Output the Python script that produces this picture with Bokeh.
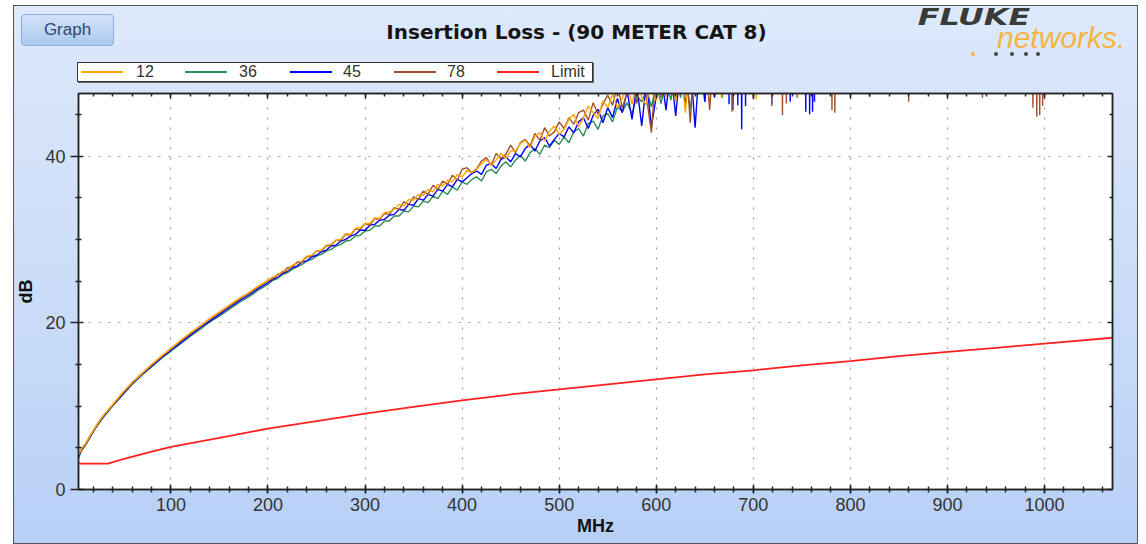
from bokeh.plotting import figure
from bokeh.layouts import column
from bokeh.models import Range1d, FixedTicker, LinearAxis, Div
from bokeh.embed import file_html
from bokeh.resources import INLINE

# ---------------- data ----------------
freq_low = [5, 8, 12, 16, 20, 25, 30, 40, 50, 60, 70, 80, 90, 100, 110, 120, 130, 140,
            150, 160, 170, 180, 190, 200]
low_12 = [4.2, 4.9, 5.5, 6.3, 7.1, 8.0, 8.8, 10.2, 11.6, 12.8, 13.9, 15.0, 16.0, 16.9,
          17.9, 18.8, 19.6, 20.5, 21.3, 22.1, 22.9, 23.6, 24.4, 25.1]
low_36 = [3.8, 4.7, 5.3, 6.1, 6.9, 7.8, 8.6, 10.0, 11.3, 12.6, 13.7, 14.7, 15.7, 16.6,
          17.5, 18.4, 19.2, 20.1, 20.8, 21.6, 22.4, 23.1, 23.9, 24.6]
low_45 = [4.0, 4.8, 5.4, 6.2, 7.0, 7.9, 8.7, 10.1, 11.4, 12.7, 13.8, 14.8, 15.8, 16.7,
          17.6, 18.5, 19.4, 20.2, 21.0, 21.8, 22.6, 23.3, 24.1, 24.8]
low_78 = [4.1, 4.9, 5.4, 6.3, 7.0, 8.0, 8.8, 10.1, 11.5, 12.8, 13.9, 14.9, 15.9, 16.9,
          17.8, 18.7, 19.6, 20.4, 21.2, 22.0, 22.8, 23.5, 24.3, 25.0]

freq_main = list(range(205, 661, 5))
main_12 = [25.5, 25.6, 26.2, 26.3, 26.9, 27.1, 27.4, 28.0, 28.1, 28.6,
           28.7, 29.3, 29.4, 29.9, 30.0, 30.7, 30.6, 31.3, 31.4, 31.9,
           31.9, 32.6, 32.5, 33.2, 33.3, 33.6, 34.2, 34.0, 34.8, 34.7,
           35.4, 35.3, 36.0, 35.7, 36.6, 36.4, 37.1, 36.9, 37.8, 37.5,
           38.3, 38.0, 38.4, 39.1, 39.6, 38.9, 39.5, 40.3, 39.7, 40.6,
           40.6, 41.5, 41.9, 41.0, 42.4, 42.8, 41.8, 43.0, 43.6, 42.6,
           43.2, 44.4, 45.0, 43.5, 44.6, 46.0, 45.2, 44.5, 46.6, 45.8,
           47.4, 45.8, 46.9, 48.6, 46.2, 49.3, 47.0, 46.1, 50.0, 46.6,
           50.6, 47.1, 51.0, 46.5, 51.4, 45.2, 52.0, 47.6, 52.5, 49.0,
           53.0, 52.0]
main_36 = [25.1, 25.3, 25.8, 26.0, 26.4, 26.7, 27.0, 27.4, 27.6, 28.0,
           28.2, 28.6, 28.8, 29.2, 29.4, 29.8, 29.9, 30.4, 30.5, 31.0,
           31.1, 31.6, 31.6, 32.2, 32.2, 32.8, 32.8, 33.4, 33.3, 34.0,
           33.9, 34.6, 34.4, 35.2, 34.9, 35.8, 35.4, 36.3, 35.9, 36.9,
           36.6, 37.2, 37.5, 37.0, 38.1, 38.4, 37.9, 38.8, 39.3, 38.7,
           39.5, 40.1, 39.4, 40.4, 40.9, 40.2, 41.3, 41.0, 41.9, 41.4,
           42.3, 41.6, 42.9, 43.3, 42.4, 43.9, 44.2, 43.2, 44.8, 45.1,
           44.1, 45.9, 45.3, 46.4, 45.0, 47.3, 46.5, 47.9, 45.9, 48.6,
           46.3, 49.2, 46.7, 49.8, 47.0, 50.3, 45.5, 50.8, 48.0, 51.5,
           49.0, 52.0]
main_45 = [25.2, 25.5, 25.9, 26.2, 26.6, 26.8, 27.3, 27.4, 27.9, 28.1,
           28.5, 28.7, 29.2, 29.3, 29.8, 30.0, 30.4, 30.6, 31.1, 31.1,
           31.7, 31.8, 32.3, 32.4, 32.9, 33.0, 33.6, 33.5, 34.2, 34.1,
           34.9, 34.7, 35.4, 35.2, 36.0, 35.8, 36.6, 36.3, 37.2, 36.9,
           37.4, 37.9, 38.2, 37.8, 38.9, 39.1, 38.5, 39.6, 39.9, 39.3,
           40.3, 39.9, 40.9, 41.4, 40.6, 41.8, 42.2, 41.2, 42.0, 42.7,
           42.3, 43.5, 42.8, 44.1, 44.6, 43.3, 44.9, 45.6, 44.0, 45.8,
           44.6, 46.9, 45.2, 47.8, 44.4, 48.5, 43.6, 49.0, 43.5, 47.2,
           50.0, 45.5, 50.5, 44.8, 51.0, 46.0, 51.5, 43.4, 52.0, 46.5,
           52.5, 47.0]
main_78 = [25.3, 25.8, 26.0, 26.6, 26.7, 27.3, 27.3, 27.9, 28.0, 28.6,
           28.6, 29.2, 29.3, 29.9, 29.9, 30.6, 30.5, 31.2, 31.2, 31.9,
           31.7, 32.5, 32.4, 33.1, 33.0, 33.8, 33.6, 34.5, 34.2, 35.1,
           34.8, 35.8, 35.4, 36.5, 36.0, 37.0, 36.6, 37.7, 37.1, 38.4,
           38.6, 38.0, 38.5, 39.4, 39.8, 38.9, 40.3, 39.7, 40.2, 41.3,
           40.4, 41.6, 42.0, 41.2, 42.7, 41.9, 43.4, 42.4, 42.9, 44.1,
           43.3, 44.6, 43.8, 45.2, 45.5, 44.3, 46.4, 45.0, 46.2, 47.3,
           46.1, 48.5, 45.8, 47.6, 49.2, 46.3, 49.8, 47.0, 42.8, 51.0,
           47.0, 51.5, 48.0, 52.0, 48.5, 52.5, 44.0, 53.0, 50.0, 53.5,
           45.5, 54.0]

# dips seen above 660 MHz (readings are off-scale elsewhere)
OFF_SCALE = 60.0
spike_f_12 = [667, 703]
spike_db_12 = [47.0, 46.8]
spike_f_36 = [668]
spike_db_36 = [47.0]
spike_f_45 = [675, 679, 684, 688, 692, 719, 738, 754, 758, 761, 763]
spike_db_45 = [46.2, 45.5, 46.1, 43.2, 46.0, 46.2, 46.5, 45.3, 45.0, 45.3, 46.5]
spike_f_78 = [678, 700, 719, 730, 734, 745, 781, 784, 820, 860, 936, 988, 992, 995, 998]
spike_db_78 = [45.3, 46.8, 46.0, 44.9, 46.3, 47.0, 45.5, 45.2, 47.1, 46.5, 47.0, 45.8,
               44.7, 44.9, 46.0]

freq_limit = [5, 35, 50, 75, 100, 150, 200, 250, 300, 350, 400, 450, 500, 550, 600, 650,
              700, 750, 800, 850, 900, 950, 1000, 1070]
limit_db = [3.1, 3.1, 3.6, 4.4, 5.1, 6.2, 7.3, 8.2, 9.1, 9.9, 10.7, 11.4, 12.0, 12.6, 13.2,
            13.8, 14.3, 14.9, 15.4, 16.0, 16.5, 17.0, 17.5, 18.2]

series_labels = ["12", "36", "45", "78", "Limit"]
series_colors = ["#ffa500", "#2e8b57", "#0000ff", "#a0522d", "#ff2020"]

x_major = [100, 200, 300, 400, 500, 600, 700, 800, 900, 1000]
x_minor = list(range(20, 1061, 20))
y_major = [0, 20, 40]
y_minor = [5, 10, 15, 25, 30, 35, 45]


def build(lo, main, sf, sd):
    xs = list(freq_low) + list(freq_main)
    ys = list(lo) + list(main)
    for f, d in zip(sf, sd):
        xs += [f - 0.8, f, f + 0.8]
        ys += [OFF_SCALE, d, OFF_SCALE]
    xs.append(1070)
    ys.append(OFF_SCALE)
    return xs, ys


FONT = "Liberation Sans"
W = 1125
PX0, PY0 = 13, 5          # page position of the panel
TOTAL_H = 539
HDR_H = 84                # header strip height

# ---------------- header strip: button, title, logo, legend (HTML) ----------------
ABS = "position:absolute;white-space:nowrap;margin:0;padding:0;"
parts = []
parts.append(
    f'<div style="{ABS}left:8px;top:9px;width:93px;height:32px;box-sizing:border-box;'
    'border:1px solid #8eaedb;border-radius:4px;'
    'background:linear-gradient(#d3e3fa,#abc8f0);text-align:center;'
    f'font-family:\'{FONT}\';font-size:17px;line-height:30px;color:#34466a;">Graph</div>')
parts.append(
    f'<div style="{ABS}left:0px;top:17px;width:1127px;text-align:center;'
    'font-family:\'DejaVu Sans\';font-weight:bold;font-size:20px;line-height:20px;'
    'color:#151515;">Insertion Loss - (90 METER CAT 8)</div>')
parts.append(
    f'<div style="{ABS}left:861px;top:4px;width:200px;text-align:center;'
    'transform:scaleX(1.38);transform-origin:50% 50%;'
    'font-family:\'DejaVu Sans\';font-weight:bold;font-style:italic;font-size:23px;'
    'line-height:17px;color:#3a3a3a;">FLUKE</div>')
parts.append(
    f'<div style="{ABS}left:984px;top:22px;font-family:\'{FONT}\';font-style:italic;'
    'font-size:30px;line-height:22px;color:#f6b444;">networks.</div>')
for X, col in ((973, "#f6b444"), (996, "#444"), (1012, "#444"), (1026, "#444"), (1038, "#444")):
    parts.append(f'<div style="{ABS}left:{X - PX0 - 2}px;top:47px;width:4px;height:4px;'
                 f'border-radius:50%;background:{col};"></div>')

# legend box
LEG_L, LEG_T, LEG_W, LEG_H = 64, 57, 516, 20
leg = [f'<div style="{ABS}left:{LEG_L}px;top:{LEG_T}px;width:{LEG_W}px;height:{LEG_H}px;'
       'box-sizing:border-box;background:#fff;border:1px solid #333;'
       'box-shadow:1px 1px 0 #666;">']
sample_x = [3, 107, 212, 316, 419]
label_x = [58, 161, 265, 369, 473]
for lab, colr, sx, lx in zip(series_labels, series_colors, sample_x, label_x):
    leg.append(f'<div style="{ABS}left:{sx}px;top:8px;width:42px;height:0px;'
               f'border-top:2px solid {colr};"></div>')
    leg.append(f'<div style="{ABS}left:{lx}px;top:1px;font-family:\'{FONT}\';'
               f'font-size:16px;line-height:16px;color:#333;">{lab}</div>')
leg.append('</div>')
parts.append("".join(leg))

header_html = (f'<div style="position:relative;width:{W}px;height:{HDR_H}px;overflow:visible;">'
               + "".join(parts) + '</div>')
hdr = Div(text=header_html, width=W, height=HDR_H, margin=0)

# ---------------- main plot ----------------
p = figure(width=W, height=TOTAL_H - HDR_H, output_backend="svg", toolbar_location=None,
           x_range=Range1d(4.8, 1070), y_range=Range1d(0, 47.5),
           min_border_left=64, min_border_right=26, min_border_top=4, min_border_bottom=55,
           x_axis_label="MHz", y_axis_label="dB")
p.border_fill_color = None
p.background_fill_color = "white"
p.outline_line_color = "#333333"
p.outline_line_width = 1.5

xt = FixedTicker(ticks=x_major, minor_ticks=x_minor)
yt = FixedTicker(ticks=y_major, minor_ticks=y_minor)

for ax, tick_out in ((p.xaxis[0], 4), (p.yaxis[0], 8)):
    ax.axis_line_color = "#222"
    ax.axis_line_width = 1.5
    ax.major_tick_line_color = "#222"
    ax.major_tick_line_width = 1.5
    ax.minor_tick_line_color = "#222"
    ax.minor_tick_line_width = 1.5
    ax.major_tick_in = 5
    ax.major_tick_out = tick_out
    ax.minor_tick_in = 3
    ax.minor_tick_out = 3
    ax.major_label_text_font = FONT
    ax.major_label_text_font_size = "18px"
    ax.major_label_text_color = "#333"
    ax.axis_label_text_font = FONT
    ax.axis_label_text_font_size = "18px"
    ax.axis_label_text_font_style = "bold"
    ax.axis_label_text_color = "#111"
p.xaxis[0].ticker = xt
p.yaxis[0].ticker = yt
p.xaxis[0].major_label_standoff = 4
p.xaxis[0].axis_label_standoff = 2
p.yaxis[0].major_label_standoff = 5
p.yaxis[0].axis_label_standoff = 6

for side, tk in (("above", xt), ("right", yt)):
    ax = LinearAxis(ticker=tk, major_tick_in=5, major_tick_out=0, minor_tick_in=3,
                    minor_tick_out=0, axis_line_color="#222", axis_line_width=1.5,
                    major_tick_line_color="#222", major_tick_line_width=1.5,
                    minor_tick_line_color="#222", minor_tick_line_width=1.5,
                    major_label_text_color=None, major_label_text_font_size="1px",
                    major_label_standoff=0)
    p.add_layout(ax, side)

p.xgrid.ticker = FixedTicker(ticks=x_major)
p.ygrid.ticker = FixedTicker(ticks=y_major)
for g in (p.xgrid, p.ygrid):
    g.grid_line_color = "#9a9a9a"
    g.grid_line_dash = "2 8"
    g.grid_line_width = 1.2

x36, y36 = build(low_36, main_36, spike_f_36, spike_db_36)
x45, y45 = build(low_45, main_45, spike_f_45, spike_db_45)
x78, y78 = build(low_78, main_78, spike_f_78, spike_db_78)
x12, y12 = build(low_12, main_12, spike_f_12, spike_db_12)

p.line(x36, y36, line_color=series_colors[1], line_width=1.4)
p.line(x45, y45, line_color=series_colors[2], line_width=1.4)
p.line(x78, y78, line_color=series_colors[3], line_width=1.4)
p.line(x12, y12, line_color=series_colors[0], line_width=1.4)
p.line(freq_limit, limit_db, line_color=series_colors[4], line_width=1.8)

layout = column(hdr, p, spacing=0,
                styles={"margin-left": f"{PX0}px", "margin-top": f"{PY0}px",
                        "background": "linear-gradient(to bottom, #dde9fb 0%, #cadcf8 55%, #b8d0f6 100%)",
                        "outline": "1px solid #555", "outline-offset": "-1px"})

open("out.html", "w").write(file_html(layout, INLINE))
